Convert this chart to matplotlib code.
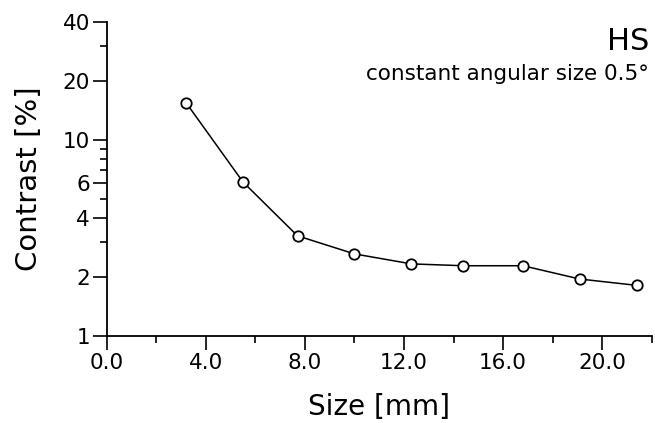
import matplotlib
matplotlib.use("Agg")
import matplotlib.pyplot as plt
from matplotlib.ticker import FixedLocator, FixedFormatter, NullFormatter

size_mm = [3.2, 5.5, 7.7, 10.0, 12.3, 14.4, 16.8, 19.1, 21.4]
contrast = [15.5, 6.1, 3.24, 2.62, 2.33, 2.28, 2.28, 1.95, 1.81]

x_major = [0, 4, 8, 12, 16, 20]
x_major_labels = ["0.0", "4.0", "8.0", "12.0", "16.0", "20.0"]
x_minor = [2, 6, 10, 14, 18, 22]
y_major = [1, 2, 4, 6, 10, 20, 40]
y_major_labels = ["1", "2", "4", "6", "10", "20", "40"]
y_minor = [3, 5, 7, 8, 9, 30]

plt.rcParams['font.family'] = ['DejaVu Sans']

fig = plt.figure(figsize=(6.55, 4.23), dpi=100)
ax = fig.add_axes([0.163, 0.206, 0.832, 0.742])

ax.plot(size_mm, contrast, color='black', lw=1.1, marker='o', ms=7.5,
        mfc='white', mec='black', mew=1.3)

ax.set_yscale('log')
ax.set_xlim(0, 22)
ax.set_ylim(1, 40)

ax.xaxis.set_major_locator(FixedLocator(x_major))
ax.xaxis.set_major_formatter(FixedFormatter(x_major_labels))
ax.xaxis.set_minor_locator(FixedLocator(x_minor))
ax.xaxis.set_minor_formatter(NullFormatter())
ax.yaxis.set_major_locator(FixedLocator(y_major))
ax.yaxis.set_major_formatter(FixedFormatter(y_major_labels))
ax.yaxis.set_minor_locator(FixedLocator(y_minor))
ax.yaxis.set_minor_formatter(NullFormatter())

for s in ['top', 'right']:
    ax.spines[s].set_visible(False)
for s in ['left', 'bottom']:
    ax.spines[s].set_linewidth(1.3)

ax.tick_params(which='major', direction='out', length=10, width=1.2, labelsize=15.5, pad=2)
ax.tick_params(which='minor', direction='out', length=5, width=1.2)

ax.set_xlabel("Size [mm]", fontsize=20, labelpad=15)
ax.set_ylabel("Contrast [%]", fontsize=21, labelpad=14)

ax.text(0.995, 0.985, "HS", transform=ax.transAxes, ha='right', va='top', fontsize=22)
ax.text(0.995, 0.865, "constant angular size 0.5°", transform=ax.transAxes,
        ha='right', va='top', fontsize=15.5)

fig.savefig("out.png", dpi=100)
